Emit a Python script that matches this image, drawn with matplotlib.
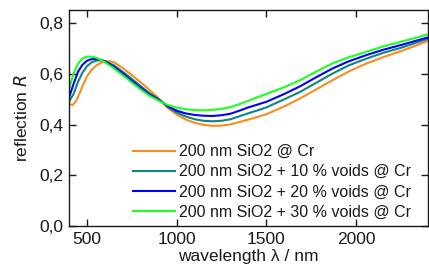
import matplotlib
matplotlib.use("Agg")
import matplotlib.pyplot as plt
from matplotlib.ticker import FuncFormatter

plt.rcParams['font.family'] = ['Liberation Sans', 'DejaVu Sans']

# wavelength grid (nm) and reflection values
wl_orange = [400, 420, 440, 460, 480, 500, 525, 550, 575, 600, 625, 650, 700, 750, 800, 850, 900, 925, 950, 1000,
             1050, 1100, 1150, 1200, 1250, 1300, 1350, 1400, 1450, 1500, 1600, 1690, 1780, 1870, 1960, 2060, 2150,
             2250, 2330, 2400]
r_orange = [0.482, 0.477, 0.494, 0.525, 0.560, 0.590, 0.615, 0.632, 0.643, 0.649, 0.650, 0.646, 0.623, 0.595, 0.566,
            0.536, 0.503, 0.485, 0.465, 0.440, 0.420, 0.407, 0.399, 0.395, 0.396, 0.401, 0.410, 0.420, 0.430, 0.441,
            0.472, 0.504, 0.540, 0.576, 0.610, 0.642, 0.666, 0.690, 0.711, 0.730]

wl_teal = [400, 425, 450, 475, 500, 525, 550, 575, 600, 650, 700, 750, 800, 850, 900, 925, 950, 1000, 1050, 1100,
           1150, 1200, 1250, 1300, 1350, 1400, 1450, 1500, 1600, 1690, 1780, 1870, 1960, 2060, 2150, 2250, 2330, 2400]
r_teal = [0.490, 0.520, 0.568, 0.605, 0.630, 0.645, 0.652, 0.654, 0.651, 0.634, 0.608, 0.580, 0.551, 0.523, 0.500,
          0.486, 0.470, 0.448, 0.432, 0.421, 0.415, 0.413, 0.415, 0.421, 0.433, 0.445, 0.456, 0.468, 0.500, 0.530,
          0.566, 0.602, 0.634, 0.661, 0.683, 0.703, 0.722, 0.738]

wl_blue = [400, 425, 450, 475, 500, 525, 550, 575, 600, 650, 700, 750, 800, 850, 900, 925, 950, 1000, 1050, 1100,
           1150, 1200, 1250, 1300, 1350, 1400, 1450, 1500, 1600, 1690, 1780, 1870, 1960, 2060, 2150, 2250, 2330, 2400]
r_blue = [0.506, 0.560, 0.608, 0.636, 0.652, 0.658, 0.659, 0.656, 0.649, 0.628, 0.602, 0.573, 0.545, 0.518, 0.497,
          0.486, 0.473, 0.455, 0.444, 0.438, 0.435, 0.434, 0.437, 0.443, 0.455, 0.468, 0.479, 0.490, 0.521, 0.552,
          0.588, 0.622, 0.650, 0.675, 0.695, 0.714, 0.730, 0.744]

wl_green = [400, 425, 450, 475, 500, 525, 550, 575, 600, 650, 700, 750, 800, 850, 900, 925, 950, 1000, 1050, 1100,
            1150, 1200, 1250, 1300, 1350, 1400, 1450, 1500, 1600, 1690, 1780, 1870, 1960, 2060, 2150, 2250, 2330, 2400]
r_green = [0.540, 0.600, 0.640, 0.661, 0.668, 0.668, 0.664, 0.656, 0.646, 0.622, 0.594, 0.566, 0.538, 0.513, 0.494,
           0.486, 0.477, 0.467, 0.461, 0.457, 0.456, 0.458, 0.462, 0.469, 0.481, 0.494, 0.508, 0.521, 0.548, 0.576,
           0.610, 0.642, 0.666, 0.688, 0.708, 0.727, 0.742, 0.756]

labels = ["200 nm SiO2 @ Cr",
          "200 nm SiO2 + 10 % voids @ Cr",
          "200 nm SiO2 + 20 % voids @ Cr",
          "200 nm SiO2 + 30 % voids @ Cr"]
colors = ['#ff8a1c', '#0e8585', '#0000ff', '#1eff1e']

x_ticks = [500, 1000, 1500, 2000]
y_ticks = [0.0, 0.2, 0.4, 0.6, 0.8]

fig = plt.figure(figsize=(4.29, 2.71), dpi=100)
ax = fig.add_axes([69 / 429, 45 / 271, 359 / 429, 216 / 271])

series = [(wl_orange, r_orange), (wl_teal, r_teal), (wl_blue, r_blue), (wl_green, r_green)]
for (wl, r), c, lab in zip(series, colors, labels):
    ax.plot(wl, r, color=c, lw=1.5, label=lab)

ax.set_xlim(400, 2400)
ax.set_ylim(0, 0.852)
ax.set_xticks(x_ticks)
ax.set_yticks(y_ticks)
ax.yaxis.set_major_formatter(FuncFormatter(lambda v, p: f"{v:.1f}".replace('.', ',')))
ax.tick_params(direction='in', top=True, right=True, length=5, width=1, labelsize=12.5,
               pad=4, colors='#1a1a1a')
for s in ax.spines.values():
    s.set_linewidth(1.0)
    s.set_color('#1a1a1a')

ax.set_xlabel("wavelength λ / nm", fontsize=12.5, color='#1a1a1a', labelpad=2)
ax.set_ylabel("reflection $\\mathit{R}$", fontsize=12.5, color='#1a1a1a', labelpad=7)

leg = ax.legend(loc='lower right', frameon=False, fontsize=11.5, handlelength=2.6,
                handletextpad=0.3, labelspacing=0.32, borderaxespad=0.3,
                bbox_to_anchor=(0.985, -0.022))
for t in leg.get_texts():
    t.set_color('#1a1a1a')

fig.savefig("out.png", dpi=100)
